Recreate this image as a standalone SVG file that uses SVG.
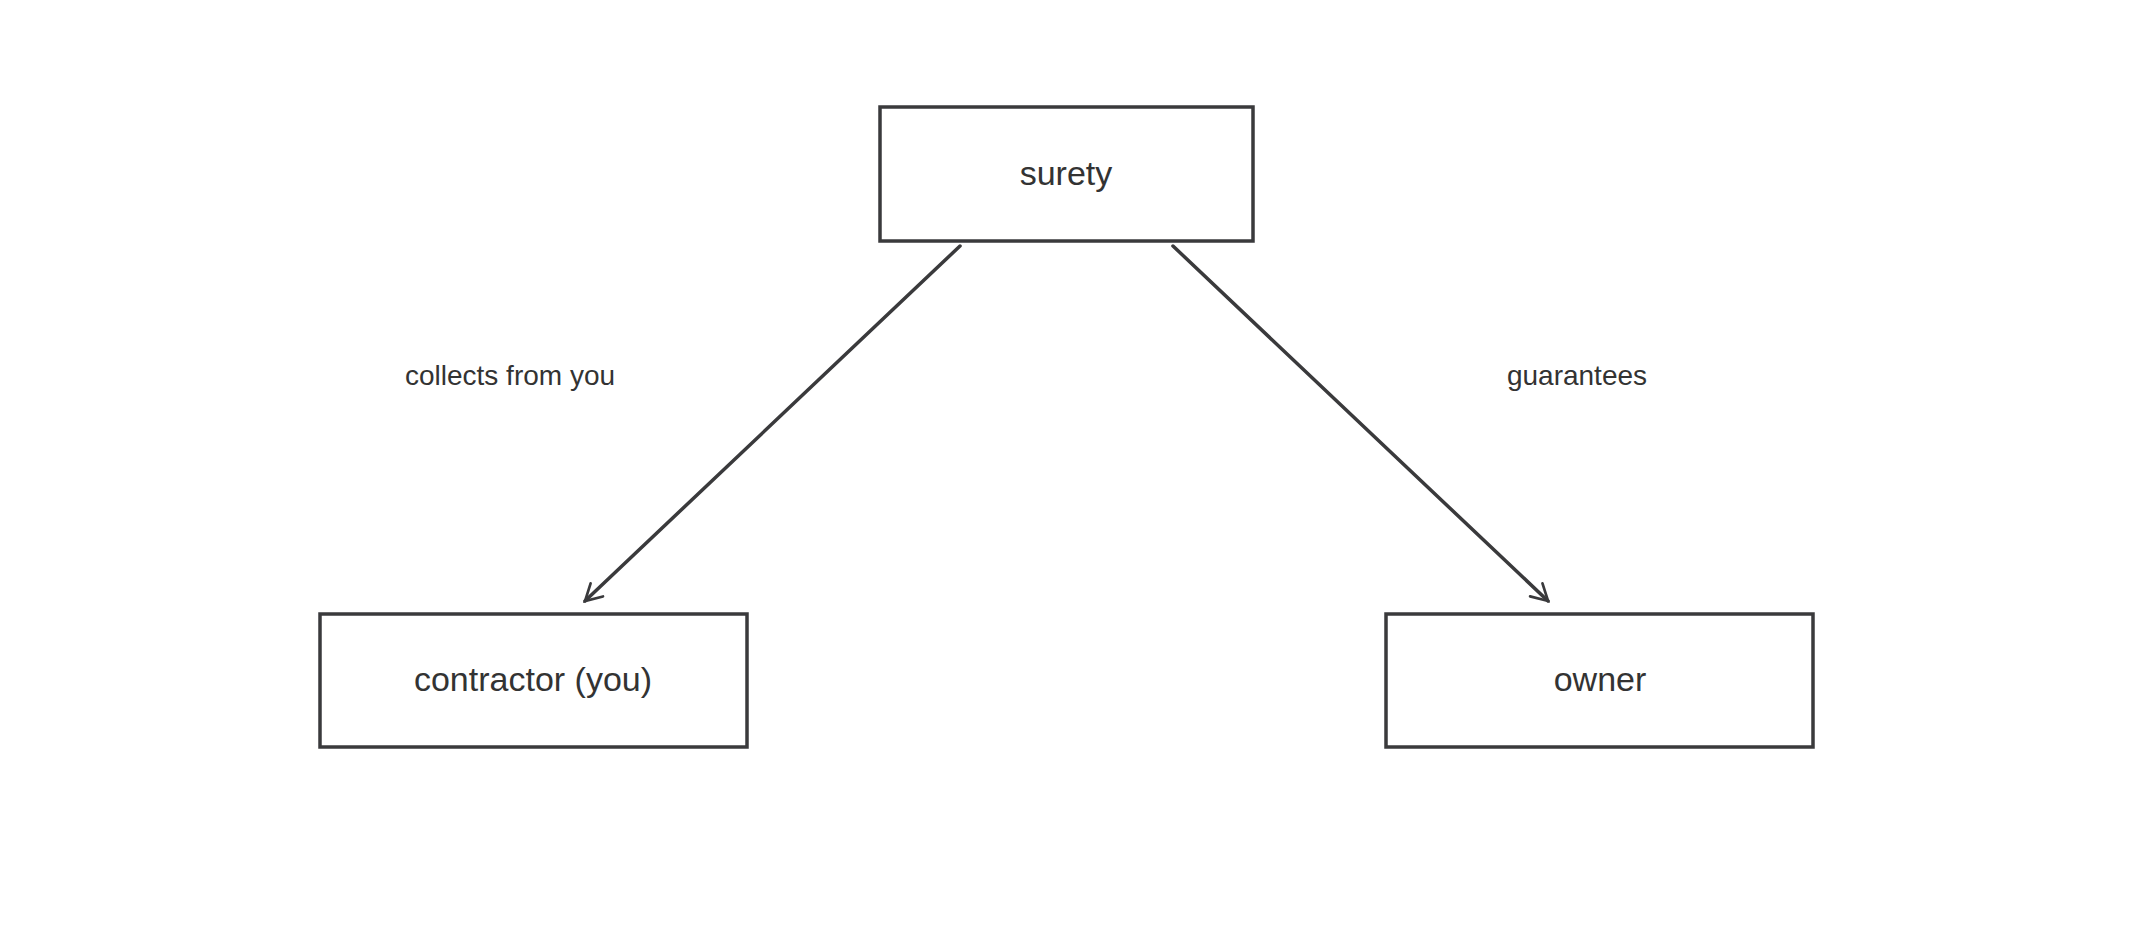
<svg xmlns="http://www.w3.org/2000/svg" width="2133" height="933" viewBox="0 0 2133 933">
<defs>
<style>
.box{fill:#fff;stroke:#3a3a3c;stroke-width:3.5}
.t{font-family:"Liberation Sans",sans-serif;fill:#333;text-anchor:middle;dominant-baseline:middle}
.n{font-size:34px}
.l{font-size:28px}
.c{stroke:#3a3a3c;stroke-width:3.5;fill:none;stroke-linecap:round}
</style>
<marker id="a" viewBox="0 0 20 20" refX="18" refY="10" markerWidth="10" markerHeight="10" markerUnits="userSpaceOnUse" orient="auto" overflow="visible">
<path d="M0,0 L18,10 L0,20" fill="none" stroke="#3a3a3c" stroke-width="3" stroke-linecap="round" transform="scale(1.8) translate(-8,-4.5)"/>
</marker>
</defs>
<rect width="2133" height="933" fill="#fff"/>
<g id="connectors">
<line class="c" x1="960" y1="246" x2="585" y2="601" marker-end="url(#a)"/>
<line class="c" x1="1173" y1="246" x2="1548" y2="601" marker-end="url(#a)"/>
<text class="t l" x="510" y="378">collects from you</text>
<text class="t l" x="1577" y="378">guarantees</text>
</g>
<g id="surety"><rect class="box" x="880" y="107" width="373" height="134"/><text class="t n" x="1066" y="176">surety</text></g>
<g id="contractor"><rect class="box" x="320" y="614" width="427" height="133"/><text class="t n" x="533" y="682">contractor (you)</text></g>
<g id="owner"><rect class="box" x="1386" y="614" width="427" height="133"/><text class="t n" x="1600" y="682">owner</text></g>
</svg>
